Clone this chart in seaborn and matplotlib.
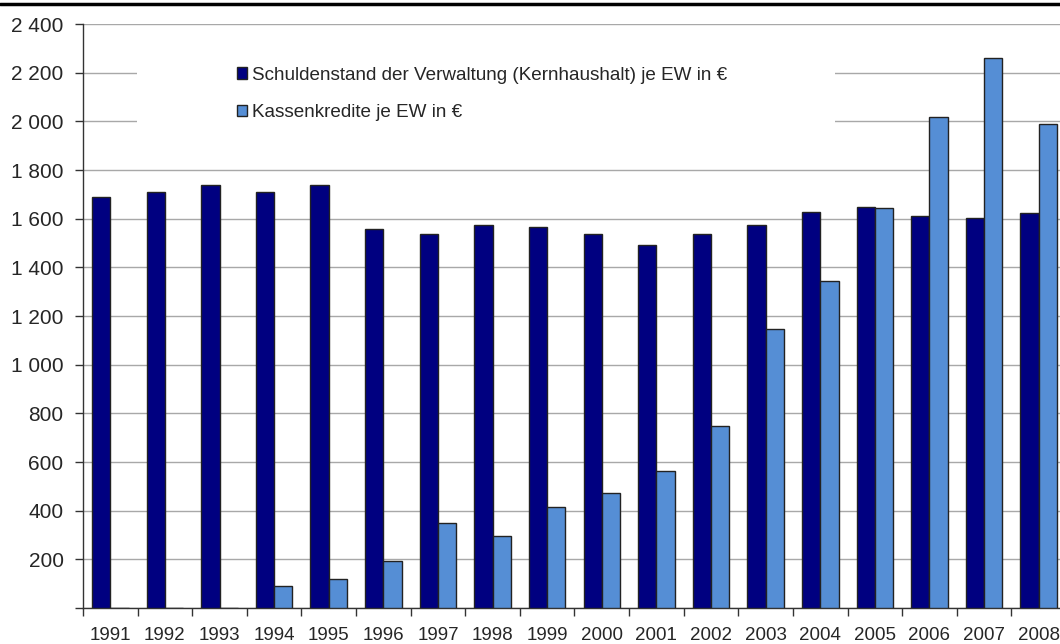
import numpy as np
import pandas as pd
import matplotlib
matplotlib.use("Agg")
import matplotlib.pyplot as plt
from matplotlib.lines import Line2D
from matplotlib.patches import Rectangle
from matplotlib.ticker import FuncFormatter, MultipleLocator, FixedLocator
import seaborn as sns

# ---- data ----
years = [str(y) for y in range(1991, 2009)]
schulden = [1690, 1711, 1739, 1710, 1737, 1557, 1535, 1572, 1567,
            1535, 1492, 1535, 1572, 1627, 1650, 1612, 1603, 1622]
kassen = [0, 0, 0, 90, 119, 193, 349, 296, 415,
          473, 563, 748, 1147, 1344, 1645, 2019, 2259, 1988]
series_names = ["Schuldenstand der Verwaltung (Kernhaushalt) je EW in €",
                "Kassenkredite je EW in €"]
colors = ["#000080", "#558ED5"]

df = pd.DataFrame({
    "Jahr": years * 2,
    "Wert": schulden + kassen,
    "Reihe": [series_names[0]] * len(years) + [series_names[1]] * len(years),
})

sns.set_style("white")
plt.rcParams["font.family"] = ["Liberation Sans", "DejaVu Sans"]

fig = plt.figure(figsize=(10.6, 6.44), dpi=100)
ax = fig.add_axes([83 / 1060, 36 / 644, 983 / 1060, 584 / 644])

sns.barplot(data=df, x="Jahr", y="Wert", hue="Reihe", palette=colors,
            width=0.67, edgecolor="#222222", linewidth=1.0, saturation=1,
            ax=ax, legend=True, zorder=3)

ax.set_ylim(0, 2400)
ax.set_xlim(-0.5, len(years) - 0.5)
ax.yaxis.set_major_locator(MultipleLocator(200))
ax.yaxis.set_major_formatter(FuncFormatter(
    lambda v, p: "" if v == 0 else f"{int(v):,}".replace(",", " ")))
ax.grid(axis="y", color="#A8A8A8", linewidth=1.0, zorder=0)
ax.set_axisbelow(True)

# Excel-style ticks between categories
ax.xaxis.set_minor_locator(FixedLocator(np.arange(-0.5, len(years), 1.0)))
ax.tick_params(axis="x", which="major", length=0, pad=14, labelsize=13.5)
ax.tick_params(axis="x", which="minor", length=6, width=1, color="#333333",
               direction="out", bottom=True)
ax.tick_params(axis="y", length=6, width=1, color="#333333", direction="out",
               left=True, pad=8, labelsize=15)
ax.set_xlabel("")
ax.set_ylabel("")

for side in ["top", "right"]:
    ax.spines[side].set_visible(False)
for side in ["left", "bottom"]:
    ax.spines[side].set_color("#333333")
    ax.spines[side].set_linewidth(1)

# white area behind the legend hides the grid lines there
ax.add_patch(Rectangle((0.055, 0.81), 0.71, 0.14, transform=ax.transAxes,
                       facecolor="white", edgecolor="none", zorder=1))

handles = [Rectangle((0, 0), 1, 1, facecolor=c, edgecolor="#222222", lw=1)
           for c in colors]
ax.legend(handles, series_names, loc="upper left",
          bbox_to_anchor=(0.149, 0.94), frameon=False, fontsize=13.6,
          handlelength=0.55, handleheight=0.55, handletextpad=0.25,
          labelspacing=1.1, borderaxespad=0)

# line at the very top of the page crop
fig.add_artist(Line2D([0, 1], [1 - 4 / 644] * 2, transform=fig.transFigure,
                      color="black", linewidth=2.5))

fig.savefig("out.png", dpi=100)
